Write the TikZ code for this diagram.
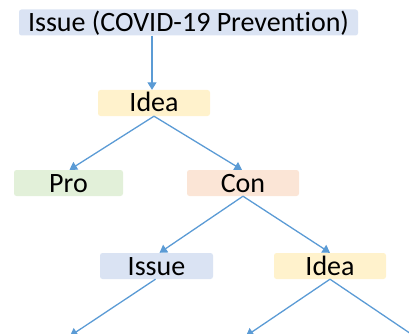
\documentclass[tikz,border=0pt]{standalone}
\usepackage{fontspec}
\setmainfont[Ligatures={NoCommon}]{Carlito}
\usetikzlibrary{arrows.meta}
\definecolor{cblue}{HTML}{DAE3F3}
\definecolor{cyellow}{HTML}{FFF2CC}
\definecolor{cgreen}{HTML}{E2F0D9}
\definecolor{corange}{HTML}{FBE5D6}
\definecolor{carrow}{HTML}{5B9BD5}
\tikzset{
  box/.style={rectangle, rounded corners=2.5pt, inner sep=0pt, minimum height=26pt,
    text height=18pt, text depth=0pt,
    font=\fontsize{28}{32}\selectfont, text=black},
  conn/.style={draw=carrow, line width=1.3pt, -{Triangle[length=7.5pt,width=9pt]}}
}
\begin{document}
\begin{tikzpicture}[x=1pt,y=-1pt]
\useasboundingbox (0,0) rectangle (409,334);
\node[box, fill=cblue, minimum width=339pt] (top) at (188.5,22.5) {Issue (COVID-19 Prevent\kern0pt ion)};
\node[box, fill=cyellow, minimum width=112pt] (idea) at (154,103) {Idea};
\node[box, fill=cgreen, minimum width=109pt] (pro) at (68.5,183) {Pro};
\node[box, fill=corange, minimum width=112pt] (con) at (243,183) {Con};
\node[box, fill=cblue, minimum width=113pt] (issue) at (156.5,266) {Issue};
\node[box, fill=cyellow, minimum width=112pt] (idea2) at (330,266) {Idea};
\coordinate (e1) at (70,336);
\coordinate (e2) at (246,336);
\coordinate (e3) at (420,340);
\draw[conn] (idea.north |- top.south) ++(-2,0) -- ([xshift=-2pt]idea.north);
\draw[conn] (idea.south) -- ([xshift=1pt]pro.north);
\draw[conn] (idea.south) -- ([xshift=-1pt]con.north);
\draw[conn] (con.south) -- ([xshift=3pt]issue.north);
\draw[conn] (con.south) -- (idea2.north);
\draw[conn] ([xshift=-1pt]issue.south) -- (e1);
\draw[conn] (idea2.south) -- (e2);
\draw[conn] (idea2.south) -- (e3);
\end{tikzpicture}
\end{document}
